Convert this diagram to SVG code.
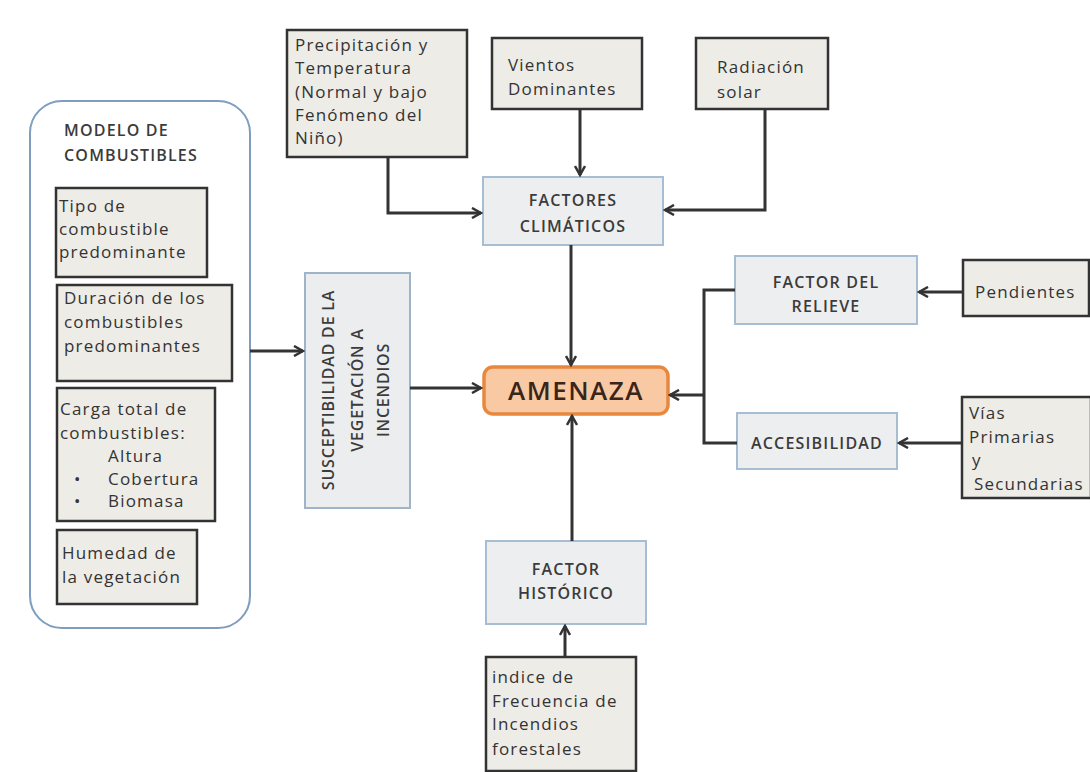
<svg xmlns="http://www.w3.org/2000/svg" width="1090" height="772" viewBox="0 0 1090 772">
<style>
text{font-family:"Open Sans","Noto Sans",sans-serif;fill:#333;font-size:17px;letter-spacing:1.2px}
.in{fill:#eeece6;stroke:#333;stroke-width:2.5}
.bl{fill:#eceeef;stroke:#a6bdd3;stroke-width:2}
text.cap{font-weight:600;fill:#3b3b3b;font-size:16px}
text.v{letter-spacing:0.8px}
.c{text-anchor:middle}
text.amz{font-size:26px;font-weight:600;fill:#3a2518;letter-spacing:1.5px}
.ln{fill:none;stroke:#333;stroke-width:3}
</style>
<defs>
<marker id="ah" viewBox="0 0 12 12" refX="10" refY="6" markerWidth="12" markerHeight="12" markerUnits="userSpaceOnUse" orient="auto">
<path d="M1,1 L10,6 L1,11" fill="none" stroke="#333" stroke-width="2.5"/>
</marker>
</defs>
<rect width="1090" height="772" fill="#fff"/>

<g id="modelo">
<rect x="30" y="101" width="220" height="527" rx="32" fill="#fff" stroke="#7f9dbe" stroke-width="2"/>
<text x="64" y="136" class="cap">MODELO DE</text>
<text x="64" y="161" class="cap">COMBUSTIBLES</text>
</g>
<g id="tipo">
<rect x="56" y="188" width="151" height="89" class="in"/>
<text x="59" y="212">Tipo de</text>
<text x="59" y="235">combustible</text>
<text x="59" y="258">predominante</text>
</g>
<g id="duracion">
<rect x="57" y="285" width="175" height="96" class="in"/>
<text x="64" y="304">Duración de los</text>
<text x="64" y="328">combustibles</text>
<text x="64" y="352">predominantes</text>
</g>
<g id="carga">
<rect x="57" y="388" width="158" height="133" class="in"/>
<text x="60" y="415">Carga total de</text>
<text x="60" y="439">combustibles:</text>
<text x="108" y="462">Altura</text>
<text x="74" y="485">•</text>
<text x="108" y="485">Cobertura</text>
<text x="74" y="507">•</text>
<text x="108" y="507">Biomasa</text>
</g>
<g id="humedad">
<rect x="57" y="530" width="140" height="74" class="in"/>
<text x="62" y="559">Humedad de</text>
<text x="62" y="583">la  vegetación</text>
</g>

<g id="susceptibilidad">
<rect x="305" y="273" width="105" height="235" fill="#ebedee" stroke="#9fb4c8" stroke-width="2"/>
<text transform="translate(334,390) rotate(-90)" class="cap c v">SUSCEPTIBILIDAD DE LA</text>
<text transform="translate(363,390) rotate(-90)" class="cap c v">VEGETACIÓN A</text>
<text transform="translate(389,390) rotate(-90)" class="cap c v">INCENDIOS</text>
</g>

<g id="amenaza">
<rect x="484" y="367" width="184" height="47" rx="9" fill="#f9c9a3" stroke="#e8873e" stroke-width="3.5"/>
<text x="576" y="400" class="amz c">AMENAZA</text>
</g>

<g id="precipitacion">
<rect x="287" y="30" width="180" height="127" class="in"/>
<text x="295" y="51">Precipitación y</text>
<text x="295" y="74">Temperatura</text>
<text x="295" y="98">(Normal y bajo</text>
<text x="295" y="121">Fenómeno del</text>
<text x="295" y="144">Niño)</text>
</g>
<g id="vientos">
<rect x="492" y="38" width="150" height="71" class="in"/>
<text x="508" y="71">Vientos</text>
<text x="508" y="95">Dominantes</text>
</g>
<g id="radiacion">
<rect x="696" y="38" width="132" height="71" class="in"/>
<text x="717" y="73">Radiación</text>
<text x="717" y="98">solar</text>
</g>
<g id="climaticos">
<rect x="483" y="177" width="180" height="68" class="bl"/>
<text x="573" y="206" class="cap c">FACTORES</text>
<text x="573" y="232" class="cap c">CLIMÁTICOS</text>
</g>

<g id="relieve">
<rect x="735" y="256" width="182" height="68" class="bl"/>
<text x="826" y="288" class="cap c">FACTOR DEL</text>
<text x="826" y="312" class="cap c">RELIEVE</text>
</g>
<g id="pendientes">
<rect x="963" y="260" width="126" height="56" class="in"/>
<text x="975" y="298">Pendientes</text>
</g>
<g id="accesibilidad">
<rect x="737" y="413" width="160" height="56" class="bl"/>
<text x="817" y="449" class="cap c">ACCESIBILIDAD</text>
</g>
<g id="vias">
<rect x="962" y="397" width="129" height="101" class="in"/>
<text x="969" y="419">Vías</text>
<text x="969" y="443">Primarias</text>
<text x="972" y="466">y</text>
<text x="974" y="490">Secundarias</text>
</g>

<g id="historico">
<rect x="486" y="541" width="160" height="83" class="bl"/>
<text x="566" y="575" class="cap c">FACTOR</text>
<text x="566" y="599" class="cap c">HISTÓRICO</text>
</g>
<g id="indice">
<rect x="486" y="657" width="150" height="114" class="in"/>
<text x="492" y="683">indice de</text>
<text x="492" y="707">Frecuencia de</text>
<text x="492" y="730">Incendios</text>
<text x="492" y="755">forestales</text>
</g>

<g id="connectors">
<path class="ln" d="M250,351 H303" marker-end="url(#ah)"/>
<path class="ln" d="M410,388 H481" marker-end="url(#ah)"/>
<path class="ln" d="M388,157 V213 H481" marker-end="url(#ah)"/>
<path class="ln" d="M580,109 V175" marker-end="url(#ah)"/>
<path class="ln" d="M765,109 V210 H665" marker-end="url(#ah)"/>
<path class="ln" d="M571,245 V365" marker-end="url(#ah)"/>
<path class="ln" d="M735,290 H704 V443 H737"/>
<path class="ln" d="M704,395 H670" marker-end="url(#ah)"/>
<path class="ln" d="M963,292 H919" marker-end="url(#ah)"/>
<path class="ln" d="M962,443 H899" marker-end="url(#ah)"/>
<path class="ln" d="M572,541 V416" marker-end="url(#ah)"/>
<path class="ln" d="M565,657 V626" marker-end="url(#ah)"/>
</g>
</svg>
